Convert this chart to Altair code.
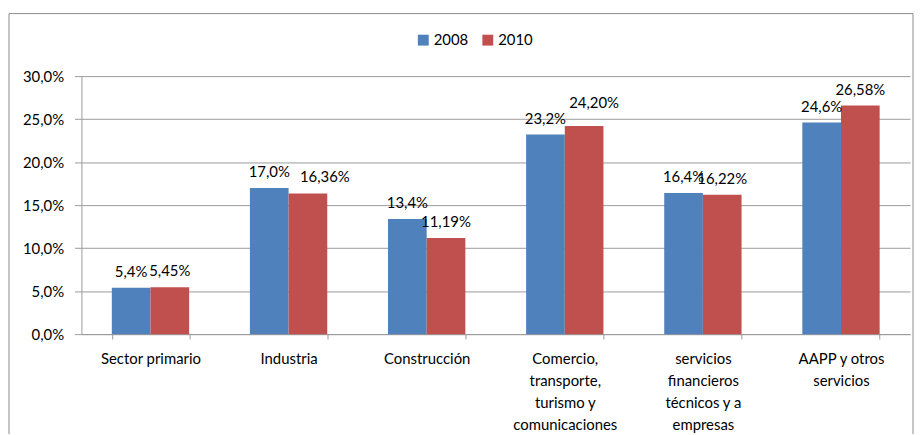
import altair as alt
import pandas as pd

categories = [
    "Sector primario",
    "Industria",
    "Construcción",
    "Comercio,|transporte,|turismo y|comunicaciones",
    "servicios|financieros|técnicos y a|empresas",
    "AAPP y otros|servicios",
]
years = ["2008", "2010"]
values_2008 = [5.4, 17.0, 13.4, 23.2, 16.4, 24.6]
values_2010 = [5.45, 16.36, 11.19, 24.20, 16.22, 26.58]
decimals = {"2008": 1, "2010": 2}
colors = ["#4F81BD", "#C0504D"]

rows = []
for year, vals in zip(years, [values_2008, values_2010]):
    for cat, v in zip(categories, vals):
        lab = f"{v:.{decimals[year]}f}".replace(".", ",") + "%"
        rows.append({"categoria": cat, "anio": year, "valor": v, "etiqueta": lab})
df = pd.DataFrame(rows)

FONT = "Lato"
GRID = "#9a9a9a"

base = alt.Chart(df)

x_enc = alt.X(
    "categoria:N",
    sort=categories,
    scale=alt.Scale(paddingInner=0.44, paddingOuter=0.22),
    axis=alt.Axis(
        title=None,
        labelAngle=0,
        labelExpr="split(datum.label, '|')",
        tickBand="extent",
        tickSize=5,
        tickColor=GRID,
        domainColor=GRID,
        labelFont=FONT,
        labelFontSize=15,
        labelColor="black",
        labelLineHeight=22,
        labelPadding=13,
        labelBaseline="top",
        grid=False,
    ),
)
xo_enc = alt.XOffset("anio:N", sort=years)
y_enc = alt.Y(
    "valor:Q",
    scale=alt.Scale(domain=[0, 30], nice=False),
    axis=alt.Axis(
        title=None,
        values=[0, 5, 10, 15, 20, 25, 30],
        labelExpr="replace(format(datum.value, '.1f'), '.', ',') + '%'",
        tickSize=7,
        tickColor=GRID,
        domainColor=GRID,
        gridColor=GRID,
        labelPadding=11,
        labelFont=FONT,
        labelFontSize=15,
        labelColor="black",
    ),
)

bars = base.mark_bar().encode(
    x=x_enc,
    xOffset=xo_enc,
    y=y_enc,
    color=alt.Color(
        "anio:N",
        scale=alt.Scale(domain=years, range=colors),
        legend=alt.Legend(
            title=None,
            orient="none",
            legendX=337,
            legendY=-44,
            direction="horizontal",
            symbolType="square",
            symbolSize=120,
            symbolStrokeWidth=0,
            labelFont=FONT,
            labelFontSize=15,
            labelColor="black",
            columnPadding=12,
            labelOffset=3,
            padding=0,
        ),
    ),
)

text_style = dict(baseline="alphabetic", font=FONT, fontSize=15, color="black")
moved = ["16,36%", "24,20%"]

texts = base.mark_text(dy=-11, **text_style).encode(
    x=x_enc, xOffset=xo_enc, y=y_enc, text="etiqueta:N"
).transform_filter(
    ~alt.FieldOneOfPredicate(field="etiqueta", oneOf=moved)
)
text_a = base.mark_text(dy=-12, dx=17, **text_style).encode(
    x=x_enc, xOffset=xo_enc, y=y_enc, text="etiqueta:N"
).transform_filter(alt.datum.etiqueta == moved[0])
text_b = base.mark_text(dy=-18, dx=10, **text_style).encode(
    x=x_enc, xOffset=xo_enc, y=y_enc, text="etiqueta:N"
).transform_filter(alt.datum.etiqueta == moved[1])

frame = alt.Chart(pd.DataFrame({"a": [0]})).mark_rect(
    fillOpacity=0, stroke="#8c8c8c", strokeWidth=1
).encode(
    x=alt.value(-73), x2=alt.value(838), y=alt.value(-63), y2=alt.value(500)
)

chart = alt.layer(frame, bars, texts, text_a, text_b).properties(
    width=835,
    height=260,
    padding={"left": 74, "top": 67, "right": 5, "bottom": 99},
    autosize=alt.AutoSizeParams(type="none"),
).configure_view(stroke=None)

chart.save("out.html", embed_options={"renderer": "svg", "actions": False})
